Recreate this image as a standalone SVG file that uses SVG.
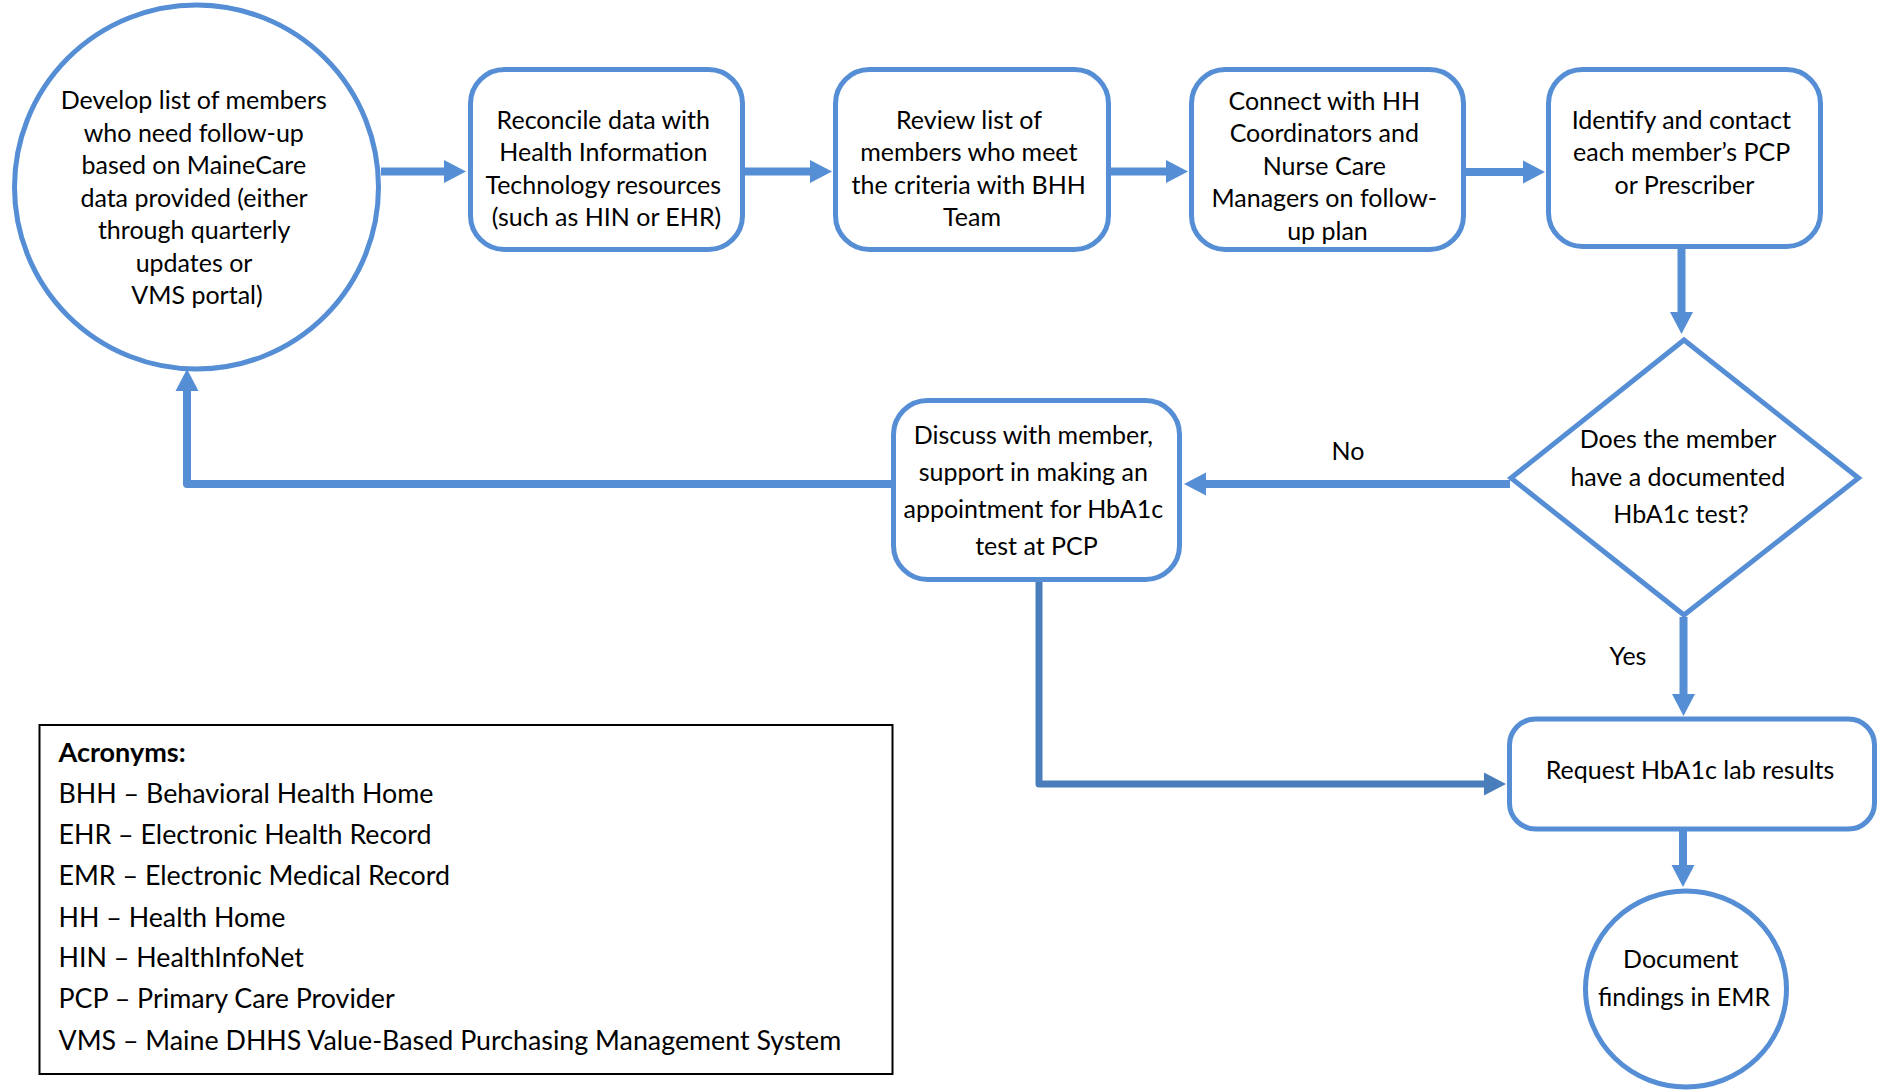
<svg xmlns="http://www.w3.org/2000/svg" width="1879" height="1092" viewBox="0 0 1879 1092">
  <style>
    .node { fill: #ffffff; stroke: #558ED5; stroke-width: 5; }
    .lbl { font-family: Lato, "Liberation Sans", sans-serif; font-size: 25px; fill: #000000; text-anchor: middle; }
    .conn { fill: none; stroke: #558ED5; stroke-width: 8; stroke-linejoin: round; }
    .conn-dark { fill: none; stroke: #4A7EBB; stroke-width: 7; stroke-linejoin: round; }
    .key-box { fill: #ffffff; stroke: #000000; stroke-width: 2; }
    .key { font-family: Lato, "Liberation Sans", sans-serif; font-size: 26.8px; fill: #000000; }
    .key-title { font-weight: bold; font-size: 27px; }
  </style>
  <defs>
    <marker id="head" markerUnits="userSpaceOnUse" markerWidth="24" markerHeight="24" refX="1" refY="11.5" orient="auto" overflow="visible">
      <path d="M0,0 L22,11.5 L0,23 Z" fill="#558ED5"/>
    </marker>
    <marker id="head-dark" markerUnits="userSpaceOnUse" markerWidth="24" markerHeight="24" refX="1" refY="11.5" orient="auto" overflow="visible">
      <path d="M0,0 L22,11.5 L0,23 Z" fill="#4A7EBB"/>
    </marker>
  </defs>

  <rect width="1879" height="1092" fill="#ffffff"/>

  <!-- connectors -->
  <g id="connectors">
    <line class="conn" x1="381" y1="171.5" x2="445" y2="171.5" marker-end="url(#head)"/>
    <line class="conn" x1="745" y1="171.5" x2="811" y2="171.5" marker-end="url(#head)"/>
    <line class="conn" x1="1111" y1="171.5" x2="1167" y2="171.5" marker-end="url(#head)"/>
    <line class="conn" x1="1466" y1="172" x2="1524" y2="172" marker-end="url(#head)"/>
    <line class="conn" x1="1681.5" y1="249" x2="1681.5" y2="313" marker-end="url(#head)"/>
    <line class="conn" x1="1510" y1="484" x2="1205" y2="484" marker-end="url(#head)"/>
    <polyline class="conn" points="891,484 187,484 187,390" marker-end="url(#head)"/>
    <line class="conn" x1="1683.5" y1="617" x2="1683.5" y2="695" marker-end="url(#head)"/>
    <polyline class="conn-dark" points="1039,582 1039,784 1485,784" marker-end="url(#head-dark)"/>
    <line class="conn" x1="1683" y1="831" x2="1683" y2="866" marker-end="url(#head)"/>
    <text class="lbl" x="1348" y="460">No</text>
    <text class="lbl" x="1628" y="665">Yes</text>
  </g>

  <!-- start: build member list -->
  <g id="develop-list">
    <circle class="node" cx="196.5" cy="187" r="182"/>
    <text class="lbl">
      <tspan x="197" y="109">Develop list of members</tspan>
      <tspan x="197" y="141.5">who need follow-up</tspan>
      <tspan x="197" y="174">based on MaineCare</tspan>
      <tspan x="197" y="206.5">data provided (either</tspan>
      <tspan x="197" y="239">through quarterly</tspan>
      <tspan x="197" y="271.5">updates or</tspan>
      <tspan x="197" y="304">VMS portal)</tspan>
    </text>
  </g>

  <g id="reconcile-data">
    <rect class="node" x="470.5" y="69.5" width="272" height="180" rx="34"/>
    <text class="lbl">
      <tspan x="606.5" y="128.5">Reconcile data with</tspan>
      <tspan x="606.5" y="161">Health Information</tspan>
      <tspan x="606.5" y="193.5">Technology resources</tspan>
      <tspan x="606.5" y="226">(such as HIN or EHR)</tspan>
    </text>
  </g>

  <g id="review-list">
    <rect class="node" x="835.5" y="69.5" width="273" height="180" rx="34"/>
    <text class="lbl">
      <tspan x="972" y="128.5">Review list of</tspan>
      <tspan x="972" y="161">members who meet</tspan>
      <tspan x="972" y="193.5">the criteria with BHH</tspan>
      <tspan x="972" y="226">Team</tspan>
    </text>
  </g>

  <g id="connect-coordinators">
    <rect class="node" x="1191.5" y="69.5" width="272" height="180" rx="34"/>
    <text class="lbl">
      <tspan x="1327.5" y="109.5">Connect with HH</tspan>
      <tspan x="1327.5" y="142">Coordinators and</tspan>
      <tspan x="1327.5" y="174.5">Nurse Care</tspan>
      <tspan x="1327.5" y="207">Managers on follow-</tspan>
      <tspan x="1327.5" y="239.5">up plan</tspan>
    </text>
  </g>

  <g id="contact-pcp">
    <rect class="node" x="1548.5" y="69.5" width="272" height="177" rx="34"/>
    <text class="lbl">
      <tspan x="1684.5" y="128.5">Identify and contact</tspan>
      <tspan x="1684.5" y="161">each member’s PCP</tspan>
      <tspan x="1684.5" y="193.5">or Prescriber</tspan>
    </text>
  </g>

  <g id="hba1c-decision">
    <polygon class="node" points="1684,340 1858.5,478 1684,615 1511,478"/>
    <text class="lbl">
      <tspan x="1681" y="448">Does the member</tspan>
      <tspan x="1681" y="485.5">have a documented</tspan>
      <tspan x="1681" y="522.5">HbA1c test?</tspan>
    </text>
  </g>

  <g id="discuss-member">
    <rect class="node" x="893.5" y="400.5" width="286" height="179" rx="34"/>
    <text class="lbl">
      <tspan x="1036.5" y="443.5">Discuss with member,</tspan>
      <tspan x="1036.5" y="480.5">support in making an</tspan>
      <tspan x="1036.5" y="517.5">appointment for HbA1c</tspan>
      <tspan x="1036.5" y="555">test at PCP</tspan>
    </text>
  </g>

  <g id="request-results">
    <rect class="node" x="1509.5" y="719" width="365" height="110" rx="26"/>
    <text class="lbl" x="1690" y="778.5">Request HbA1c lab results</text>
  </g>

  <g id="document-findings">
    <ellipse class="node" cx="1686" cy="989" rx="100.5" ry="98"/>
    <text class="lbl">
      <tspan x="1684" y="968">Document</tspan>
      <tspan x="1684" y="1006">findings in EMR</tspan>
    </text>
  </g>

  <!-- acronym key -->
  <g id="acronyms">
    <rect class="key-box" x="39.5" y="725" width="853" height="349"/>
    <text class="key key-title" x="58.5" y="762">Acronyms:</text>
    <text class="key">
      <tspan x="58.5" y="803">BHH – Behavioral Health Home</tspan>
      <tspan x="58.5" y="844">EHR – Electronic Health Record</tspan>
      <tspan x="58.5" y="884.5">EMR – Electronic Medical Record</tspan>
      <tspan x="58.5" y="926.5">HH – Health Home</tspan>
      <tspan x="58.5" y="967">HIN – HealthInfoNet</tspan>
      <tspan x="58.5" y="1008">PCP – Primary Care Provider</tspan>
      <tspan x="58.5" y="1050">VMS – Maine DHHS Value-Based Purchasing Management System</tspan>
    </text>
  </g>
</svg>
